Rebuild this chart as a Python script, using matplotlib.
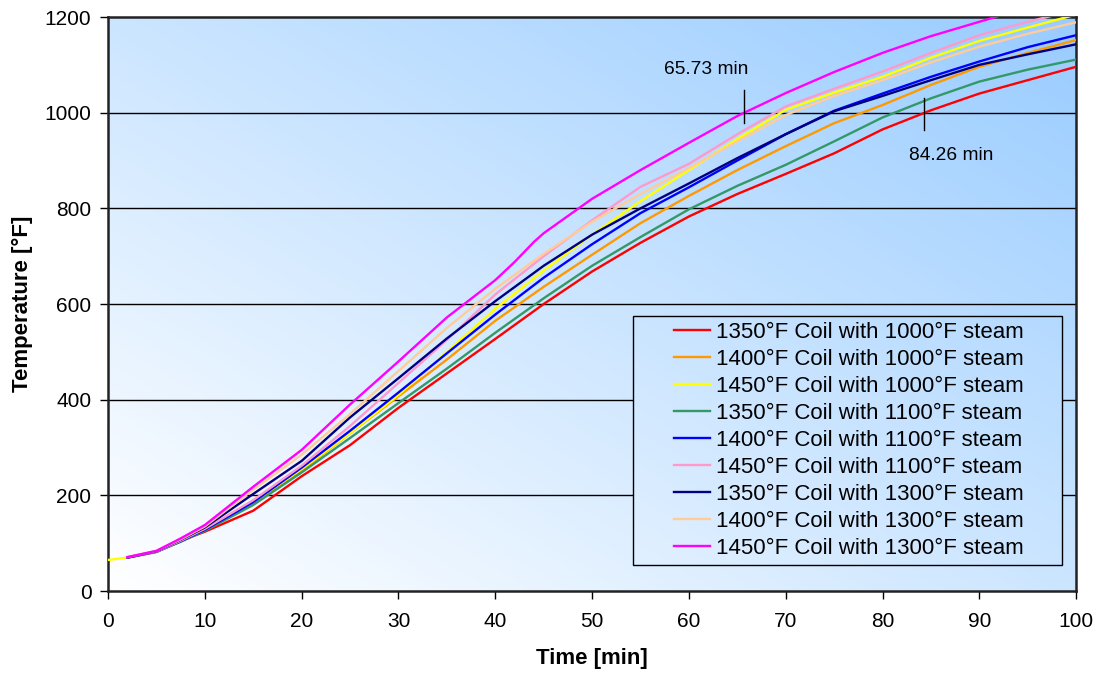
import numpy as np
import matplotlib
matplotlib.use('Agg')
from matplotlib import pyplot as plt
from matplotlib.colors import LinearSegmentedColormap
from matplotlib.patches import Rectangle

plt.rcParams['font.family'] = ['Liberation Sans', 'DejaVu Sans']

# time grid [min]
t = [2, 5, 7.5, 10, 15, 20, 25, 30, 35, 40, 45, 50, 55, 60, 65, 70, 75, 80, 85, 90, 95, 100]

c1350_1000 = [70, 82, 105, 124, 168, 240, 305, 383, 455, 527, 600, 668, 728, 783, 830, 872, 915, 965, 1005, 1040, 1068, 1096]
c1400_1000 = [70, 82, 104, 127, 182, 252, 330, 407, 484, 565, 636, 703, 769, 826, 880, 930, 978, 1016, 1058, 1096, 1125, 1152]
t_yellow = [0] + t
c1450_1000 = [65, 70, 82, 104, 128, 186, 255, 330, 410, 500, 590, 670, 745, 815, 880, 945, 1006, 1042, 1075, 1115, 1150, 1178, 1205]
c1350_1100 = [70, 82, 103, 126, 180, 248, 320, 393, 465, 540, 612, 680, 740, 798, 847, 891, 940, 990, 1030, 1065, 1090, 1111]
c1400_1100 = [70, 82, 104, 128, 186, 258, 335, 415, 497, 578, 655, 725, 790, 844, 900, 955, 1004, 1040, 1075, 1107, 1137, 1162]
c1450_1100 = [70, 82, 105, 130, 190, 262, 345, 435, 525, 620, 700, 775, 845, 893, 955, 1013, 1050, 1086, 1125, 1162, 1190, 1215]
c1350_1300 = [70, 83, 107, 133, 203, 272, 363, 445, 528, 606, 680, 745, 800, 852, 905, 955, 1003, 1035, 1068, 1100, 1122, 1143]
c1400_1300 = [71, 84, 108, 135, 212, 285, 370, 460, 550, 632, 705, 772, 830, 884, 940, 995, 1035, 1068, 1105, 1138, 1165, 1189]
t_mag = [2, 5, 7.5, 10, 15, 20, 25, 30, 35, 40, 42, 44, 45, 50, 55, 60, 65, 70, 75, 80, 85, 90, 95, 100]
c1450_1300 = [71, 84, 110, 138, 218, 295, 390, 480, 572, 650, 688, 730, 748, 820, 880, 937, 993, 1041, 1085, 1125, 1160, 1190, 1220, 1250]

series = [
    ('1350°F Coil with 1000°F steam', t, c1350_1000, '#ff0000'),
    ('1400°F Coil with 1000°F steam', t, c1400_1000, '#ff9900'),
    ('1450°F Coil with 1000°F steam', t_yellow, c1450_1000, '#ffff00'),
    ('1350°F Coil with 1100°F steam', t, c1350_1100, '#339966'),
    ('1400°F Coil with 1100°F steam', t, c1400_1100, '#0000ff'),
    ('1450°F Coil with 1100°F steam', t, c1450_1100, '#ff99cc'),
    ('1350°F Coil with 1300°F steam', t, c1350_1300, '#000080'),
    ('1400°F Coil with 1300°F steam', t, c1400_1300, '#ffcc99'),
    ('1450°F Coil with 1300°F steam', t_mag, c1450_1300, '#ff00ff'),
]

fig = plt.figure(figsize=(10.97, 6.75), dpi=100)
ax = fig.add_axes([0.0985, 0.1244, 0.8825, 0.8504])

# diagonal gradient: white bottom-left -> light blue top-right
u, v = np.meshgrid(np.linspace(0, 1, 200), np.linspace(0, 1, 200))
grad = (u + v) / 2
cmap = LinearSegmentedColormap.from_list('bg', ['#ffffff', '#99ccff'])
ax.imshow(grad, cmap=cmap, origin='lower', extent=[0, 100, 0, 1200],
          aspect='auto', zorder=0, vmin=0, vmax=1)

for y in [200, 400, 600, 800, 1000]:
    ax.axhline(y, color='black', lw=1, zorder=1)

for label, x, y, col in series:
    ax.plot(x, y, color=col, lw=1.7, label=label, zorder=3)

# markers for times to reach 1000 F
ax.plot([65.73, 65.73], [978, 1047], color='black', lw=1, zorder=4)
ax.text(61.8, 1090, '65.73 min', fontsize=13.8, ha='center', va='center')
ax.plot([84.26, 84.26], [964, 1030], color='black', lw=1, zorder=4)
ax.text(87.1, 911, '84.26 min', fontsize=13.8, ha='center', va='center')

ax.set_xlim(0, 100)
ax.set_ylim(0, 1200)
ax.set_xticks(range(0, 101, 10))
ax.set_yticks(range(0, 1201, 200))
ax.tick_params(axis='both', labelsize=15, direction='out', length=6, width=1)
ax.tick_params(axis='x', pad=9)
ax.tick_params(axis='y', pad=6)
ax.set_xlabel('Time [min]', fontsize=16, fontweight='bold', labelpad=12)
ax.set_ylabel('Temperature [°F]', fontsize=16, fontweight='bold', labelpad=8)
for s in ax.spines.values():
    s.set_linewidth(1.8)
    s.set_color('#222222')

# legend box (Excel style, wide left margin), filled so gridlines stop at it
box = Rectangle((54.2, 54.4), 44.35, 520.6, facecolor='none',
                edgecolor='black', lw=1, zorder=5)
ax.add_patch(box)
fill = ax.imshow(grad, cmap=cmap, origin='lower', extent=[0, 100, 0, 1200],
                 aspect='auto', zorder=4.5, vmin=0, vmax=1)
fill.set_clip_path(box)
ax.set_xlim(0, 100)
ax.set_ylim(0, 1200)
leg = ax.legend(loc='upper left', bbox_to_anchor=(0.5847, 0.469), fontsize=16,
                frameon=False, handlelength=1.6, handletextpad=0.3,
                labelspacing=0.27, borderpad=0, borderaxespad=0)
leg.set_zorder(6)

fig.savefig('out.png', dpi=100)
